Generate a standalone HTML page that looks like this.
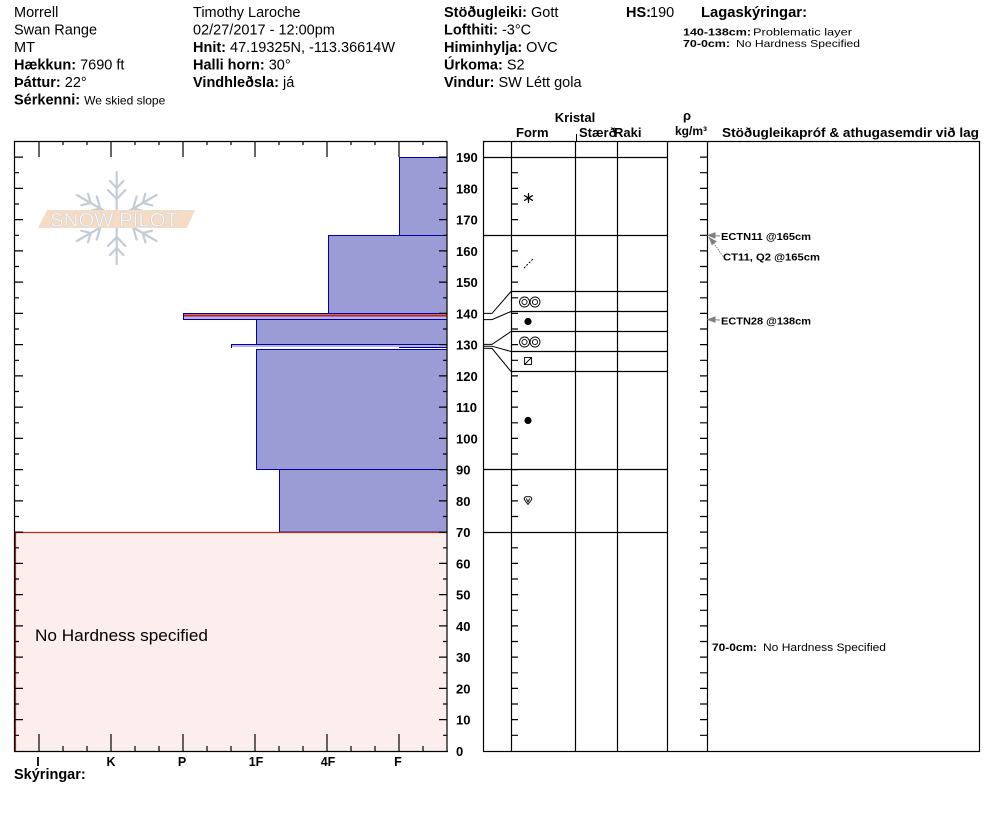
<!DOCTYPE html>
<html><head><meta charset="utf-8"><style>
html,body{margin:0;padding:0;background:#fff;}
svg{display:block;font-family:"Liberation Sans",Arial,sans-serif;}
.b{font-weight:bold;}
</style></head><body>
<svg width="994" height="840" viewBox="0 0 994 840" xmlns="http://www.w3.org/2000/svg">
<rect width="994" height="840" fill="#fff"/>
<!-- Header -->
<g font-size="14.5" fill="#000">
<text x="14" y="17">Morrell</text>
<text x="14" y="34.5">Swan Range</text>
<text x="14" y="52">MT</text>
<text x="14" y="69.5"><tspan class="b">Hækkun:</tspan> 7690 ft</text>
<text x="14" y="87"><tspan class="b">Þáttur:</tspan> 22°</text>
<text x="14" y="104.5"><tspan class="b">Sérkenni:</tspan> <tspan font-size="12">We skied slope</tspan></text>

<text x="193" y="17">Timothy  Laroche</text>
<text x="193" y="34.5">02/27/2017 - 12:00pm</text>
<text x="193" y="52"><tspan class="b">Hnit:</tspan> 47.19325N, -113.36614W</text>
<text x="193" y="69.5"><tspan class="b">Halli horn:</tspan> 30°</text>
<text x="193" y="87"><tspan class="b">Vindhleðsla:</tspan> já</text>

<text x="444" y="17"><tspan class="b">Stöðugleiki:</tspan> Gott</text>
<text x="444" y="34.5"><tspan class="b">Lofthiti:</tspan> -3°C</text>
<text x="444" y="52"><tspan class="b">Himinhylja:</tspan> OVC</text>
<text x="444" y="69.5"><tspan class="b">Úrkoma:</tspan> S2</text>
<text x="444" y="87"><tspan class="b">Vindur:</tspan>  SW Létt gola</text>

<text x="626" y="17" class="b">HS:</text>
<text x="650" y="17">190</text>
<text x="701" y="17" class="b" textLength="106" lengthAdjust="spacingAndGlyphs">Lagaskýringar:</text>
</g>
<g font-size="10.5" fill="#000">
<text x="683" y="35.5" font-weight="bold" textLength="68" lengthAdjust="spacingAndGlyphs">140-138cm:</text>
<text x="753" y="35.5" textLength="99" lengthAdjust="spacingAndGlyphs">Problematic layer</text>
<text x="683" y="47" font-weight="bold" textLength="47" lengthAdjust="spacingAndGlyphs">70-0cm:</text>
<text x="736" y="47" textLength="124" lengthAdjust="spacingAndGlyphs">No Hardness Specified</text>
</g>

<!-- Table header -->
<g font-size="13" fill="#000" font-weight="bold">
<text x="575" y="122" text-anchor="middle">Kristal</text>
<text x="516" y="137">Form</text>
<text x="579" y="137">Stærð</text>
<text x="614" y="137">Raki</text>
<text x="683" y="120">ρ</text>
<text x="675" y="135" font-size="12">kg/m³</text>
<text x="722" y="137" textLength="257" lengthAdjust="spacingAndGlyphs">Stöðugleikapróf &amp; athugasemdir við lag</text>
</g>
<line x1="576.5" y1="134" x2="576.5" y2="141" stroke="#000"/>

<!-- Left chart layers -->
<g stroke="#0000a0" stroke-width="1" fill="#9b9bd6">
<rect x="399.5" y="157.5" width="47.5" height="78"/>
<rect x="328.5" y="235.5" width="118.5" height="78"/>
<rect x="256.5" y="319.5" width="190.5" height="25"/>
<rect x="256.5" y="349.5" width="190.5" height="120"/>
<rect x="279.5" y="469.5" width="167.5" height="62.5"/>
<rect x="183.5" y="313.5" width="263.5" height="6" fill="#b4b4e6"/>
<rect x="231.5" y="344.5" width="215.5" height="3" fill="#b4b4e6"/>
</g>
<line x1="184" y1="315.5" x2="447" y2="315.5" stroke="#c42020" stroke-width="2"/>
<line x1="232" y1="347.5" x2="399" y2="347.5" stroke="#ffffff" stroke-width="1"/>
<line x1="399" y1="347.5" x2="447" y2="347.5" stroke="#0000a0" stroke-width="1"/>
<rect x="15" y="532.5" width="432" height="218.5" fill="#fdeeee"/>
<line x1="15" y1="532.5" x2="447" y2="532.5" stroke="#b03010" stroke-width="1.2"/>
<line x1="15.5" y1="532" x2="15.5" y2="751" stroke="#b03010" stroke-width="1.2"/>
<text x="35" y="641" font-size="16.5" fill="#000" textLength="173" lengthAdjust="spacingAndGlyphs">No Hardness specified</text>

<!-- Logo -->
<g stroke="#c4ccd6" stroke-width="2.2" fill="none" stroke-linecap="round">
<g id="arm">
<line x1="116.7" y1="218" x2="116.7" y2="172"/>
<polyline points="108,190 116.7,199 125.4,190"/>
<polyline points="110,181 116.7,188 123.4,181"/>
</g>
<use href="#arm" transform="rotate(60 116.7 218)"/>
<use href="#arm" transform="rotate(120 116.7 218)"/>
<use href="#arm" transform="rotate(180 116.7 218)"/>
<use href="#arm" transform="rotate(240 116.7 218)"/>
<use href="#arm" transform="rotate(300 116.7 218)"/>
</g>
<polygon points="47,210 195,210 187,228 38,228" fill="#f4dcc7"/>
<text x="50" y="226.5" font-size="19" fill="#ffffff" stroke="#d0d0d0" stroke-width="0.6" textLength="128" lengthAdjust="spacingAndGlyphs">SNOW PILOT</text>

<!-- Left chart frame -->
<g stroke="#000" stroke-width="1.2" fill="none">
<line x1="14" y1="141.5" x2="447" y2="141.5"/>
<line x1="14.5" y1="141" x2="14.5" y2="752"/>
<line x1="14" y1="751.5" x2="448" y2="751.5"/>
<line x1="447" y1="141" x2="447" y2="752"/>
</g>
<g stroke="#000" stroke-width="1.2">
<path d="M39 141V157M111 141V157M183 141V157M255 141V157M327 141V157M399 141V157"/>
<path d="M63 141V145M87 141V145M135 141V145M159 141V145M207 141V145M231 141V145M279 141V145M303 141V145M351 141V145M375 141V145M423 141V145"/>
<path d="M39 751V734M111 751V734M183 751V734M255 751V734M327 751V734M399 751V734"/>
<path d="M63 751V746M87 751V746M135 751V746M159 751V746M207 751V746M231 751V746M279 751V746M303 751V746M351 751V746M375 751V746M423 751V746"/>
</g>
<g stroke="#000" stroke-width="1.2">
<path d="M15 157.1H23M15 188.4H23M15 219.6H23M15 250.9H23M15 282.1H23M15 313.4H23M15 344.6H23M15 375.9H23M15 407.1H23M15 438.4H23M15 469.6H23M15 500.9H23M15 532.1H23M15 563.4H23M15 594.6H23M15 625.9H23M15 657.1H23M15 688.4H23M15 719.6H23"/>
<path d="M15 172.7H19M15 204H19M15 235.3H19M15 266.5H19M15 297.8H19M15 329H19M15 360.3H19M15 391.5H19M15 422.8H19M15 454H19M15 485.3H19M15 516.5H19M15 547.8H19M15 579H19M15 610.3H19M15 641.5H19M15 672.8H19M15 704H19M15 735.3H19"/>
<path d="M447 157.1H439M447 188.4H439M447 219.6H439M447 250.9H439M447 282.1H439M447 313.4H439M447 344.6H439M447 375.9H439M447 407.1H439M447 438.4H439M447 469.6H439M447 500.9H439M447 532.1H439M447 563.4H439M447 594.6H439M447 625.9H439M447 657.1H439M447 688.4H439M447 719.6H439"/>
<path d="M447 172.7H443M447 204H443M447 235.3H443M447 266.5H443M447 297.8H443M447 329H443M447 360.3H443M447 391.5H443M447 422.8H443M447 454H443M447 485.3H443M447 516.5H443M447 547.8H443M447 579H443M447 610.3H443M447 641.5H443M447 672.8H443M447 704H443M447 735.3H443"/>
</g>
<!-- Axis labels -->
<g font-size="13" font-weight="bold" fill="#000">
<text x="456" y="162">190</text>
<text x="456" y="193.4">180</text>
<text x="456" y="224.6">170</text>
<text x="456" y="255.9">160</text>
<text x="456" y="287.1">150</text>
<text x="456" y="318.4">140</text>
<text x="456" y="349.6">130</text>
<text x="456" y="380.9">120</text>
<text x="456" y="412.1">110</text>
<text x="456" y="443.4">100</text>
<text x="456" y="474.6">90</text>
<text x="456" y="505.9">80</text>
<text x="456" y="537.1">70</text>
<text x="456" y="568.4">60</text>
<text x="456" y="599.6">50</text>
<text x="456" y="630.9">40</text>
<text x="456" y="662.1">30</text>
<text x="456" y="693.4">20</text>
<text x="456" y="724.6">10</text>
<text x="456" y="756">0</text>
</g>
<g font-size="12.5" font-weight="bold" fill="#000" text-anchor="middle">
<text x="38" y="766">I</text>
<text x="111" y="766">K</text>
<text x="182" y="766">P</text>
<text x="256" y="766">1F</text>
<text x="328" y="766">4F</text>
<text x="398" y="766">F</text>
</g>
<text x="14" y="779" font-size="14.5" font-weight="bold" fill="#000">Skýringar:</text>

<!-- Crystal table -->
<g stroke="#000" stroke-width="1.2" fill="none">
<rect x="483.5" y="141.5" width="496" height="610"/>
<line x1="511.5" y1="141" x2="511.5" y2="751"/>
<line x1="575.5" y1="141" x2="575.5" y2="751"/>
<line x1="617.5" y1="141" x2="617.5" y2="751"/>
<line x1="667.5" y1="141" x2="667.5" y2="751"/>
<line x1="707.5" y1="141" x2="707.5" y2="751"/>
<line x1="483" y1="157.5" x2="667" y2="157.5"/>
<line x1="483" y1="235.5" x2="667" y2="235.5"/>
<line x1="483" y1="469.5" x2="667" y2="469.5"/>
<line x1="483" y1="532.5" x2="667" y2="532.5"/>
<line x1="511" y1="291.5" x2="667" y2="291.5"/>
<line x1="511" y1="311.5" x2="667" y2="311.5"/>
<line x1="511" y1="331.5" x2="667" y2="331.5"/>
<line x1="511" y1="351.5" x2="667" y2="351.5"/>
<line x1="511" y1="371.5" x2="667" y2="371.5"/>
</g>
<g stroke="#000" stroke-width="1" fill="none">
<polyline points="483,313.4 492,313.4 511,291.5"/>
<polyline points="483,319.6 492,319.6 511,311.5"/>
<polyline points="483,344.4 492,344.4 511,331.5"/>
<polyline points="483,346.2 492,346.2 511,351.5"/>
<polyline points="483,348.2 492,348.4 511,371.5"/>
</g>
<g stroke="#000" stroke-width="1.2">
<path d="M511 172.7H518M511 188.4H518M511 204H518M511 219.6H518M511 250.9H518M511 266.5H518M511 282.1H518M511 297.8H518M511 313.4H518M511 329H518M511 344.6H518M511 360.3H518M511 375.9H518M511 391.5H518M511 407.1H518M511 422.8H518M511 438.4H518M511 454H518M511 469.6H518M511 485.3H518M511 500.9H518M511 516.5H518M511 547.8H518M511 563.4H518M511 579H518M511 594.6H518M511 610.3H518M511 625.9H518M511 641.5H518M511 657.1H518M511 672.8H518M511 688.4H518M511 704H518M511 719.6H518M511 735.3H518"/>
<path d="M707 157.1H700M707 172.7H700M707 188.4H700M707 204H700M707 219.6H700M707 235.3H700M707 250.9H700M707 266.5H700M707 282.1H700M707 297.8H700M707 313.4H700M707 329H700M707 344.6H700M707 360.3H700M707 375.9H700M707 391.5H700M707 407.1H700M707 422.8H700M707 438.4H700M707 454H700M707 469.6H700M707 485.3H700M707 500.9H700M707 516.5H700M707 532.1H700M707 547.8H700M707 563.4H700M707 579H700M707 594.6H700M707 610.3H700M707 625.9H700M707 641.5H700M707 657.1H700M707 672.8H700M707 688.4H700M707 704H700M707 719.6H700M707 735.3H700"/>
</g>
<!-- Symbols -->
<g stroke="#000" stroke-width="1.3" stroke-linecap="round">
<line x1="528.5" y1="193.5" x2="528.5" y2="202.5"/>
<line x1="524.6" y1="195.7" x2="532.4" y2="200.3"/>
<line x1="524.6" y1="200.3" x2="532.4" y2="195.7"/>
</g>
<line x1="524" y1="268" x2="533" y2="259" stroke="#000" stroke-width="1" stroke-dasharray="2,1.5"/>
<g stroke="#000" stroke-width="0.9" fill="none">
<circle cx="524.5" cy="302" r="5"/><circle cx="524.5" cy="302" r="2.6"/>
<circle cx="535" cy="302" r="5"/><circle cx="535" cy="302" r="2.6"/>
<circle cx="524.5" cy="342" r="5"/><circle cx="524.5" cy="342" r="2.6"/>
<circle cx="535" cy="342" r="5"/><circle cx="535" cy="342" r="2.6"/>
<rect x="524.5" y="357.5" width="7" height="7"/>
<line x1="524.5" y1="364.5" x2="531.5" y2="357.5"/>
<path d="M528 504.5 L524.3 499.5 A2.4 2.4 0 0 1 528 497 A2.4 2.4 0 0 1 531.7 499.5 Z"/>
<path d="M526.3 498.5 L528 502 L529.7 498.5"/>
</g>
<circle cx="528" cy="321.5" r="3.6" fill="#000"/>
<circle cx="528" cy="420.5" r="3.6" fill="#000"/>

<!-- Annotations -->
<g stroke="#808080" stroke-width="1" fill="#808080">
<line x1="720" y1="236" x2="712" y2="235.5"/>
<polygon points="708,235.3 715,232.8 715,238"/>
<line x1="723" y1="256.5" x2="713" y2="242" stroke-dasharray="1.5,1"/>
<polygon points="709.5,238 716,241.5 712,244.5"/>
<line x1="720" y1="320" x2="712" y2="319.8"/>
<polygon points="708,319.6 715,317 715,322.2"/>
</g>
<g font-size="10.5" font-weight="bold" fill="#000">
<text x="721" y="240" textLength="90" lengthAdjust="spacingAndGlyphs">ECTN11 @165cm</text>
<text x="723" y="260.5" textLength="97" lengthAdjust="spacingAndGlyphs">CT11, Q2 @165cm</text>
<text x="721" y="324.5" textLength="90" lengthAdjust="spacingAndGlyphs">ECTN28 @138cm</text>
</g>
<g font-size="11" fill="#000">
<text x="712" y="651" font-weight="bold" textLength="45" lengthAdjust="spacingAndGlyphs">70-0cm:</text>
<text x="763" y="651" textLength="123" lengthAdjust="spacingAndGlyphs">No Hardness Specified</text>
</g>
</svg>
</body></html>
